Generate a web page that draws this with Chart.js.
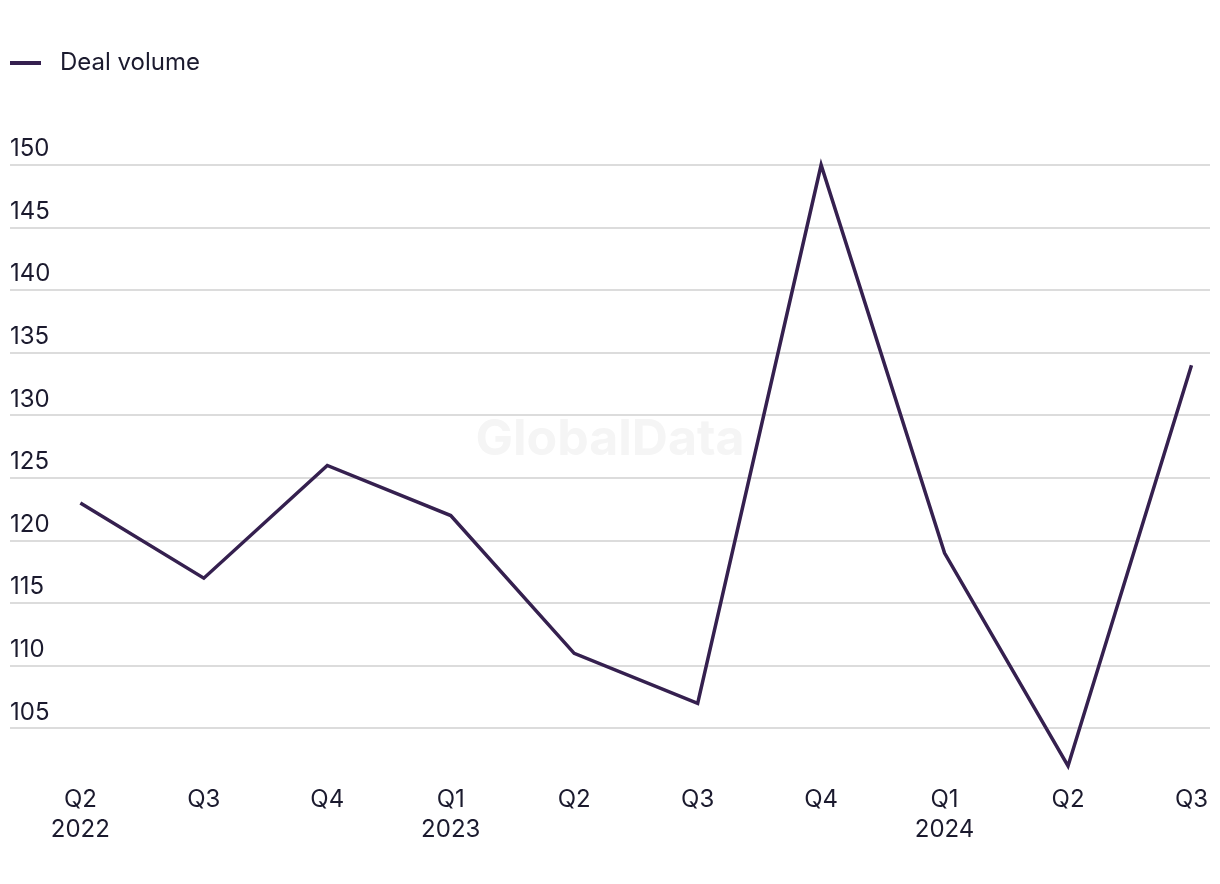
<!DOCTYPE html>
<html>
<head>
<meta charset="utf-8">
<script src="https://cdn.jsdelivr.net/npm/chart.js@4.4.1/dist/chart.umd.min.js"></script>
<style>
  html, body { margin: 0; padding: 0; background: #fff; }
  #wrap { width: 1220px; height: 884px; position: relative; }
</style>
</head>
<body>
<div id="wrap"><canvas id="mainChart"></canvas></div>
<script>
// --- Data ---
const quarters = ['Q2', 'Q3', 'Q4', 'Q1', 'Q2', 'Q3', 'Q4', 'Q1', 'Q2', 'Q3'];
const years    = ['2022', '', '', '2023', '', '', '', '2024', '', ''];
const dealVolume = [123, 117, 126, 122, 111, 107, 150, 119, 102, 134];
const yTicks = [105, 110, 115, 120, 125, 130, 135, 140, 145, 150];

const TEXT = '#1b1a2e';
const LINE = '#35204f';
const FONT = 'Inter, "Noto Sans", sans-serif';

// legend marker: short line with some room on its right
function lineMarker() {
  const c = document.createElement('canvas');
  c.width = 38;
  c.height = 4;
  const g = c.getContext('2d');
  g.fillStyle = LINE;
  g.fillRect(0, 0, 31, 4);
  return c;
}

// faint watermark in the middle of the plot
const watermark = {
  id: 'watermark',
  beforeDatasetsDraw(chart) {
    const { ctx, chartArea: a } = chart;
    ctx.save();
    ctx.fillStyle = '#f5f5f5';
    ctx.font = 'bold 50px ' + FONT;
    ctx.textAlign = 'center';
    ctx.textBaseline = 'middle';
    ctx.fillText('GlobalData', (a.left + a.right) / 2, 440);
    ctx.restore();
  }
};

// extra gap under the legend
const legendGap = {
  id: 'legendGap',
  beforeInit(chart) {
    const fit = chart.legend.fit;
    chart.legend.fit = function () {
      fit.call(this);
      this.height += 80;
    };
  }
};

const ctx = document.getElementById('mainChart').getContext('2d');

new Chart(ctx, {
  type: 'line',
  data: {
    datasets: [{
      label: 'Deal volume',
      data: dealVolume.map((v, i) => ({ x: i, y: v })),
      borderColor: LINE,
      backgroundColor: LINE,
      borderWidth: 3.5,
      pointRadius: 0,
      tension: 0,
      clip: false,
    }],
  },
  options: {
    responsive: true,
    maintainAspectRatio: false,
    animation: false,
    layout: { padding: { left: 0, right: 10, top: 41, bottom: 28 } },
    plugins: {
      legend: {
        position: 'top',
        align: 'start',
        labels: {
          color: TEXT,
          font: { family: FONT, size: 24 },
          usePointStyle: true,
          pointStyleWidth: 38,
          boxHeight: 4,
          padding: 10,
          generateLabels: chart => chart.data.datasets.map((d, i) => ({
            text: d.label,
            pointStyle: lineMarker(),
            fillStyle: d.borderColor,
            strokeStyle: d.borderColor,
            lineWidth: 0,
            fontColor: TEXT,
            datasetIndex: i,
          })),
        },
      },
      tooltip: { enabled: false },
    },
    scales: {
      x: {
        type: 'linear',
        min: -0.57,
        max: 9.15,
        afterBuildTicks: axis => {
          axis.ticks = quarters.map((q, i) => ({ value: i }));
        },
        ticks: {
          color: TEXT,
          font: { family: FONT, size: 24, lineHeight: 1.25 },
          padding: 11,
          maxRotation: 0,
          autoSkip: false,
          callback: v => years[v] ? [quarters[v], years[v]] : quarters[v],
        },
        grid: { display: false },
        border: { display: false },
      },
      y: {
        min: 102,
        max: 150,
        afterBuildTicks: axis => {
          axis.ticks = yTicks.map(v => ({ value: v }));
        },
        afterFit: axis => { axis.width = 10; },
        ticks: {
          color: TEXT,
          font: { family: FONT, size: 24 },
          mirror: true,
          padding: 0,
          labelOffset: -16,
        },
        grid: { color: '#dcdcdc', lineWidth: 2, drawTicks: false },
        border: { display: false },
      },
    },
  },
  plugins: [watermark, legendGap],
});
</script>
</body>
</html>
